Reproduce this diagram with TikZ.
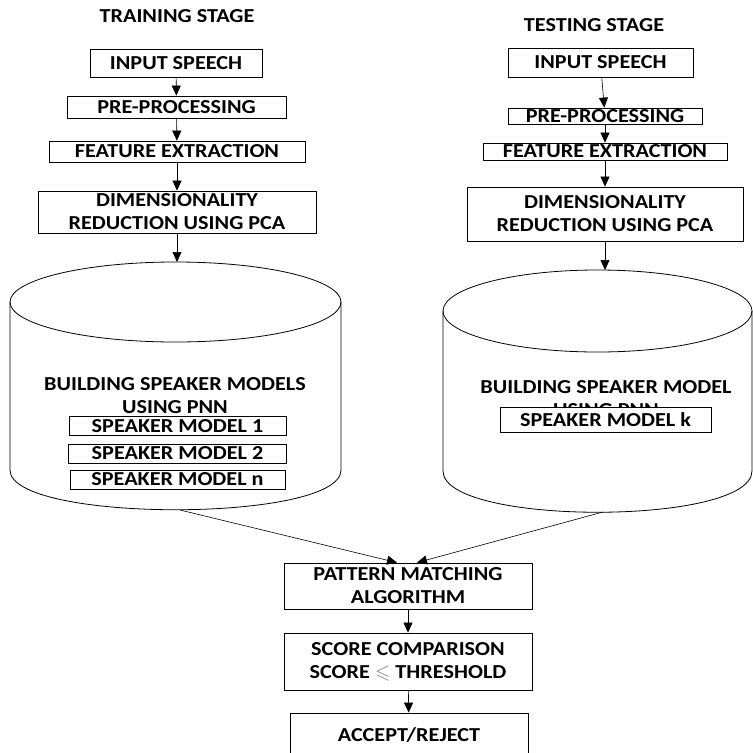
\documentclass[tikz,border=0pt]{standalone}
\usepackage{fontspec}
\setmainfont{Carlito}[FakeStretch=1.12]
\usepackage{amssymb}
\usetikzlibrary{arrows.meta}
\begin{document}
\begin{tikzpicture}[x=1pt,y=-1pt,
  every node/.style={font=\fontsize{19.8}{23}\selectfont\bfseries, inner sep=0pt, align=center},
  stagebox/.style={draw, thick, fill=white},
  link/.style={-{Triangle[length=10pt,width=9pt]}, semithick},
  cyl/.style={thick}]
\useasboundingbox (0,0) rectangle (753,753);
% titles
\node (ltitle) at (177,16) {TRAINING STAGE};
\node (rtitle) at (594,25) {TESTING STAGE};
% training column
\node[stagebox, minimum width=172pt, minimum height=28pt] (lin) at (176,63) {INPUT SPEECH};
\node[stagebox, minimum width=219pt, minimum height=22pt] (lpre) at (176.5,107) {PRE-PROCESSING};
\node[stagebox, minimum width=256pt, minimum height=21pt] (lfeat) at (177,151.5) {FEATURE EXTRACTION};
\node[stagebox, minimum width=278pt, minimum height=42pt] (ldim) at (177,212) {DIMENSIONALITY\\REDUCTION USING PCA};
% testing column
\node[stagebox, minimum width=185pt, minimum height=29pt] (rin) at (600.5,62.5) {INPUT SPEECH};
\node[stagebox, minimum width=194pt, minimum height=16pt] (rpre) at (605,116) {PRE-PROCESSING};
\node[stagebox, minimum width=244pt, minimum height=17pt] (rfeat) at (605,151.5) {FEATURE EXTRACTION};
\node[stagebox, minimum width=276pt, minimum height=54pt] (rdim) at (605,214) {DIMENSIONALITY\\REDUCTION USING PCA};
% databases
\draw[cyl] (175.5,302) ellipse [x radius=165.5, y radius=40];
\draw[cyl] (10,302) -- (10,470) .. controls (10,523) and (341,523) .. (341,470) -- (341,302);
\draw[cyl] (597.5,311) ellipse [x radius=154.5, y radius=41];
\draw[cyl] (443,311) -- (443,471) .. controls (443,526) and (752,526) .. (752,471) -- (752,311);
\coordinate (ltop) at (177,262);
\coordinate (lbot) at (180,510);
\coordinate (rtop) at (605,270);
\coordinate (rbot) at (603,512);
\node (lbuild) at (175,396) {BUILDING SPEAKER MODELS\\USING PNN};
\node (rbuild) at (606,399) {BUILDING SPEAKER MODEL\\USING PNN};
\foreach \n/\y/\w in {1/426/217, 2/453.5/218, n/479.5/215}
  \node[stagebox, minimum width=\w pt, minimum height=19pt] (lm\n) at (177.5,\y) {SPEAKER MODEL \n};
\node[stagebox, minimum width=211pt, minimum height=25pt] (rmk) at (605.5,419.5) {SPEAKER MODEL k};
% decision
\node[stagebox, minimum width=248pt, minimum height=46pt] (pat) at (408,586) {PATTERN MATCHING\\ALGORITHM};
\node[stagebox, minimum width=248pt, minimum height=57pt] (score) at (408,661.5) {SCORE COMPARISON\\SCORE {\mdseries\color{gray}$\leqslant$} THRESHOLD};
\node[stagebox, minimum width=238pt, minimum height=44pt] (acc) at (409,735) {ACCEPT/REJECT};
% arrows
\draw[link] (lin) -- (lpre);
\draw[link] (lpre) -- (lfeat);
\draw[link] (lfeat) -- (ldim);
\draw[link] (ldim) -- (ltop);
\draw[link] (rin) -- (rpre);
\draw[link] (rpre) -- (rfeat);
\draw[link] (rfeat) -- (rdim);
\draw[link] (rdim) -- (rtop);
\draw[link] (lbot) -- ([xshift=-11pt]pat.north);
\draw[link] (rbot) -- ([xshift=9pt]pat.north);
\draw[link] (pat) -- (score);
\draw[link] (score) -- (acc);
\end{tikzpicture}
\end{document}
